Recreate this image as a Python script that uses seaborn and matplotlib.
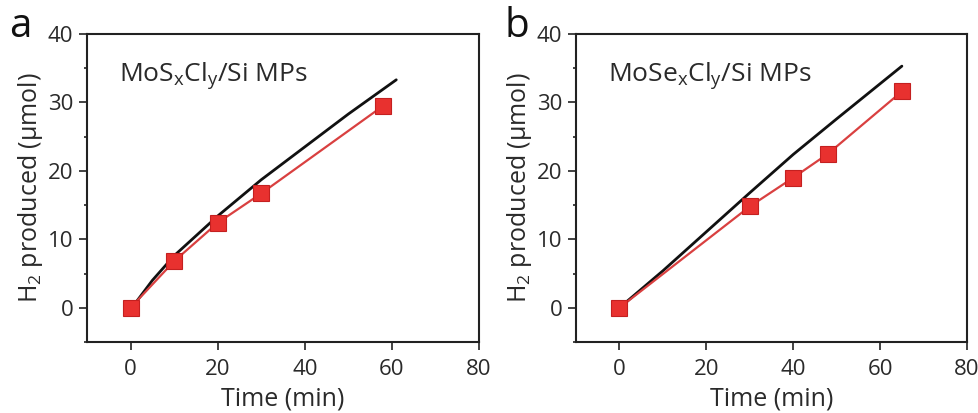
import matplotlib
matplotlib.use("Agg")
import matplotlib.pyplot as plt
import seaborn as sns
import pandas as pd
from matplotlib.ticker import MultipleLocator

sns.set_theme(style="ticks")
plt.rcParams["font.family"] = ["Open Sans", "DejaVu Sans"]
plt.rcParams["mathtext.fontset"] = "custom"
plt.rcParams["mathtext.rm"] = "Open Sans"
plt.rcParams["mathtext.it"] = "Open Sans"

# Panel a: MoSxCly/Si MPs
a_fit_time = [1, 5, 10, 20, 30, 40, 50, 61]
a_fit_h2 = [0.6, 4.0, 7.6, 13.4, 18.7, 23.5, 28.3, 33.3]
a_meas_time = [0, 10, 20, 30, 58]
a_meas_h2 = [0.0, 6.8, 12.4, 16.7, 29.5]

# Panel b: MoSexCly/Si MPs
b_fit_time = [0, 10, 20, 30, 40, 50, 65]
b_fit_h2 = [0.0, 5.4, 11.1, 16.8, 22.4, 27.6, 35.3]
b_meas_time = [0, 30, 40, 48, 65]
b_meas_h2 = [0.0, 14.8, 19.0, 22.5, 31.6]

x_ticks = [0, 20, 40, 60, 80]
y_ticks = [0, 10, 20, 30, 40]

panels = [
    ("a", -0.2, r"MoS$_\mathregular{x}$Cl$_\mathregular{y}$/Si MPs",
     a_fit_time, a_fit_h2, a_meas_time, a_meas_h2),
    ("b", -0.183, r"MoSe$_\mathregular{x}$Cl$_\mathregular{y}$/Si MPs",
     b_fit_time, b_fit_h2, b_meas_time, b_meas_h2),
]

fig = plt.figure(figsize=(9.79, 4.13), dpi=100)
rects = [[0.0889, 0.172, 0.4004, 0.7458], [0.5884, 0.172, 0.3994, 0.7458]]

text_col = "#2a2a2a"
red = "#e8312f"
for rect, (tag, tag_x, label, ft, fh, mt, mh) in zip(rects, panels):
    ax = fig.add_axes(rect)
    fit = pd.DataFrame({"t": ft, "h2": fh})
    meas = pd.DataFrame({"t": mt, "h2": mh})
    sns.lineplot(data=fit, x="t", y="h2", ax=ax, color="#111111", lw=2.0,
                 sort=False, zorder=2)
    sns.lineplot(data=meas, x="t", y="h2", ax=ax, color="#d94040", lw=1.6,
                 marker="s", markersize=11, markerfacecolor=red,
                 markeredgecolor="#c42020", markeredgewidth=0.8,
                 sort=False, zorder=3)
    ax.set_xlim(-10, 80)
    ax.set_ylim(-5, 40)
    ax.set_xticks(x_ticks)
    ax.set_yticks(y_ticks)
    ax.yaxis.set_minor_locator(MultipleLocator(5))
    ax.tick_params(axis="both", which="major", direction="out", length=6,
                   width=1.2, labelsize=16, colors="#222222",
                   labelcolor=text_col, pad=4)
    ax.tick_params(axis="x", which="major", pad=6)
    ax.tick_params(axis="y", which="minor", direction="out", length=2.5,
                   width=1.2, colors="#222222")
    ax.tick_params(axis="x", which="minor", length=0)
    for s in ax.spines.values():
        s.set_linewidth(1.5)
        s.set_color("#222222")
    ax.set_xlabel("Time (min)", fontsize=18, color=text_col, labelpad=5)
    ax.set_ylabel(r"H$_\mathregular{2}$ produced ($\mathregular{\mu}$mol)",
                  fontsize=18, color=text_col, labelpad=2)
    ax.text(0.082, 0.915, label, transform=ax.transAxes, fontsize=19,
            color=text_col, va="top", ha="left")
    ax.text(tag_x, 1.09, tag, transform=ax.transAxes, fontsize=29,
            color="#111111", va="top", ha="left")

fig.savefig("out.png", dpi=100)
